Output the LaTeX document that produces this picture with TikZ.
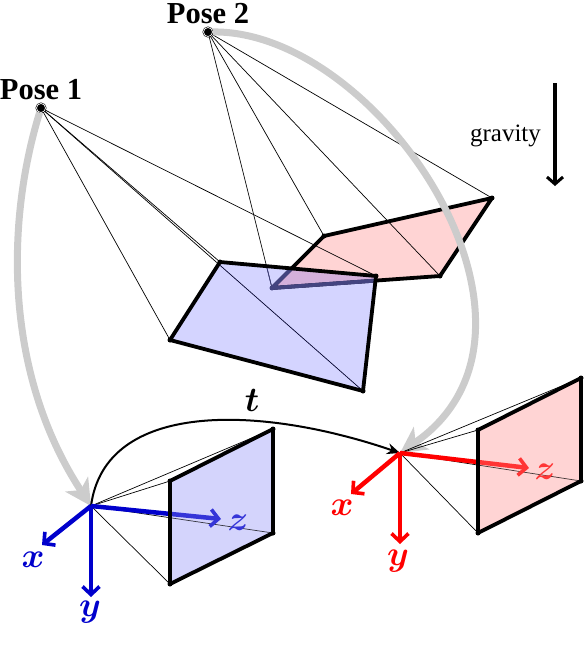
\documentclass[tikz,border=0pt]{standalone}
\usepackage{amsmath}
\usepackage{fontspec}
\setmainfont{Liberation Serif}
\usetikzlibrary{arrows.meta}
\definecolor{bluefill}{RGB}{212,212,252}
\definecolor{redfill}{RGB}{255,212,212}
\definecolor{arcgray}{RGB}{204,204,204}
\definecolor{bluedark}{RGB}{0,0,204}
\definecolor{dimedge}{RGB}{68,68,128}
\tikzset{
  ray/.style={line width=0.7pt,black},
  quadedge/.style={line width=3.8pt,black,line join=round},
  vertexdot/.style={circle,fill=black,inner sep=0pt,minimum size=5pt},
  posedot/.style={circle,fill=black,draw=black,double=white,double distance=0.7pt,line width=0.6pt,inner sep=0pt,minimum size=9pt},
  grayarc/.style={line width=7pt,arcgray,-{Stealth[length=26pt,width=27pt,inset=7pt]}},
  axisarrow/.style={line width=4.5pt,-{Straight Barb[length=8pt,width=17pt,line width=3.6pt]}},
  poselabel/.style={font=\fontsize{30.5}{30.5}\selectfont\bfseries,inner sep=0pt,anchor=base},
  mathlabel/.style={font=\fontsize{24.88}{24.88}\selectfont,inner sep=0pt,scale=1.4,transform shape}
}
\begin{document}
\begin{tikzpicture}[x=1pt,y=-1pt]
\useasboundingbox (0,0) rectangle (586,646);
\node[posedot] (p1) at (41,108) {};
\node[posedot] (p2) at (208,32) {};
\coordinate (b1) at (170,340);
\coordinate (b2) at (220,262);
\coordinate (b3) at (376,276);
\coordinate (b4) at (363,391);
\coordinate (r1) at (272,288);
\coordinate (r2) at (324,236);
\coordinate (r3) at (492,198);
\coordinate (r4) at (440,276);
\coordinate (c1) at (91,506);
\coordinate (c2) at (400,453);
\coordinate (q1) at (170,481);
\coordinate (q2) at (273,429);
\coordinate (q3) at (273,533);
\coordinate (q4) at (170,584);
\coordinate (s1) at (478,430);
\coordinate (s2) at (581,378);
\coordinate (s3) at (581,481);
\coordinate (s4) at (478,533);
% top: red plane
\fill[redfill] (r1) -- (r2) -- (r3) -- (r4) -- cycle;
\draw[quadedge] (r1) -- (r2) -- (r3) -- (r4) -- cycle;
\foreach \t in {r1,r2,r3,r4} \draw[ray] (p2) -- (\t);
\foreach \t in {b1,b2,b3,b4} \draw[ray] (p1) -- (\t);
\foreach \t in {r2,r3,r4} \node[vertexdot] at (\t) {};
% blue plane, translucent over the red one
\fill[blue,fill opacity=0.17] (b1) -- (b2) -- (b3) -- (b4) -- cycle;
\begin{scope}
\clip (b1) -- (b2) -- (b3) -- (b4) -- cycle;
\draw[quadedge,dimedge] (r4) -- (r1) -- (r2);
\draw[ray,dimedge] (p2) -- (r1);
\node[vertexdot,fill=dimedge] at (r1) {};
\end{scope}
\draw[quadedge] (b1) -- (b2) -- (b3) -- (b4) -- cycle;
\foreach \t in {b1,b2,b3,b4} \node[vertexdot] at (\t) {};
% gray arcs
\draw[grayarc] (p1) .. controls (5,225) and (5,375) .. (c1);
\draw[grayarc] (p2) .. controls (380,30) and (578,330) .. (c2);
% trajectory
\draw[line width=2pt,-{Stealth[length=13pt,width=11pt]}] (c1) .. controls (105,400) and (260,405) .. (c2);
\node[mathlabel] (tl) at (252,400) {$\boldsymbol{t}$};
% bottom left
\fill[bluefill] (q1) -- (q2) -- (q3) -- (q4) -- cycle;
\foreach \t in {q1,q2,q3,q4} \draw[ray] (c1) -- (\t);
\coordinate (bx) at (42,545);
\coordinate (by) at (91,597);
\coordinate (bz) at (221,519);
\draw[axisarrow,bluedark] (c1) -- (bx);
\draw[axisarrow,bluedark] (c1) -- (by);
\draw[axisarrow,bluedark] (c1) -- (bz);
\node[mathlabel,text=bluedark] (bxl) at (33,560) {$\boldsymbol{x}$};
\node[mathlabel,text=bluedark] (byl) at (90,612) {$\boldsymbol{y}$};
\node[mathlabel,text=bluedark] (bzl) at (238,523) {$\boldsymbol{z}$};
\fill[bluefill,fill opacity=0.25] (q1) -- (q2) -- (q3) -- (q4) -- cycle;
\draw[quadedge] (q1) -- (q2) -- (q3) -- (q4) -- cycle;
\foreach \t in {q1,q2,q3,q4} \node[vertexdot] at (\t) {};
% bottom right
\fill[redfill] (s1) -- (s2) -- (s3) -- (s4) -- cycle;
\foreach \t in {s1,s2,s3,s4} \draw[ray] (c2) -- (\t);
\coordinate (rx) at (351,494);
\coordinate (ry) at (400,544);
\coordinate (rz) at (529,468);
\draw[axisarrow,red] (c2) -- (rx);
\draw[axisarrow,red] (c2) -- (ry);
\draw[axisarrow,red] (c2) -- (rz);
\node[mathlabel,text=red] (rxl) at (342,508) {$\boldsymbol{x}$};
\node[mathlabel,text=red] (ryl) at (398,561) {$\boldsymbol{y}$};
\node[mathlabel,text=red] (rzl) at (545,472) {$\boldsymbol{z}$};
\fill[redfill,fill opacity=0.25] (s1) -- (s2) -- (s3) -- (s4) -- cycle;
\draw[quadedge] (s1) -- (s2) -- (s3) -- (s4) -- cycle;
\foreach \t in {s1,s2,s3,s4} \node[vertexdot] at (\t) {};
% labels
\node[poselabel] (l1) at (41,99) {Pose 1};
\node[poselabel] (l2) at (208,23) {Pose 2};
% gravity
\node[font=\fontsize{25}{25}\selectfont,inner sep=0pt,anchor=base] (gl) at (505.5,141) {gravity};
\coordinate (g1) at (555,83);
\coordinate (g2) at (555,186);
\draw[line width=3.6pt,-{Straight Barb[length=7pt,width=16pt,line width=3pt]}] (g1) -- (g2);
\end{tikzpicture}
\end{document}
